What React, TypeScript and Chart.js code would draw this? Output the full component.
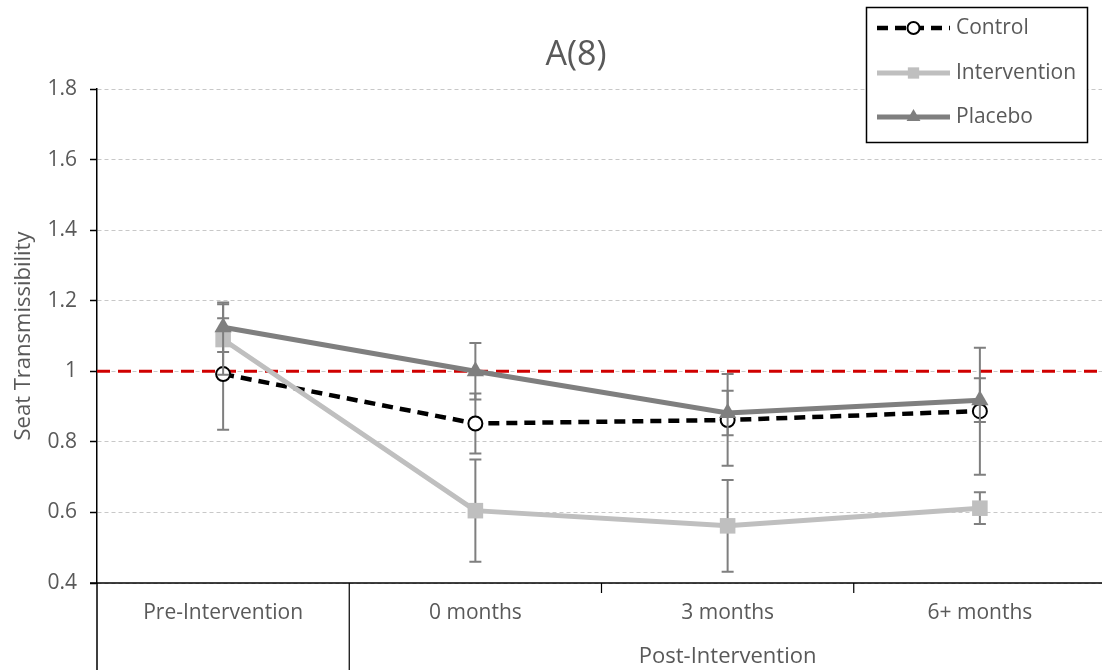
import React, { useEffect, useRef } from 'react';
import { Chart, registerables } from 'chart.js';

Chart.register(...registerables);

// ---------- data ----------
const categories = ['Pre-Intervention', '0 months', '3 months', '6+ months'];
const groupLabel = 'Post-Intervention';
const groupStart = 1; // first category in the Post-Intervention group
const groupEnd = 3;

const controlValues = [0.992, 0.852, 0.862, 0.887];
const controlErrors = [0.158, 0.085, 0.13, 0.18];
const interventionValues = [1.09, 0.605, 0.562, 0.612];
const interventionErrors = [0.1, 0.145, 0.13, 0.045];
const placeboValues = [1.125, 1.0, 0.882, 0.918];
const placeboErrors = [0.07, 0.08, 0.063, 0.062];

const seriesNames = ['Control', 'Intervention', 'Placebo'];
const referenceValue = 1;
const yMin = 0.4;
const yMax = 1.8;
const yStep = 0.2;
const chartTitle = 'A(8)';
const yTitle = 'Seat Transmissibility';

// ---------- styles ----------
const FONT = "'Open Sans', 'Noto Sans', sans-serif";
const TEXT = '#595959';
const ERR_COLOR = '#7f7f7f';
const errorsByDataset = [controlErrors, interventionErrors, placeboErrors];

type Style = {
  color: string;
  width: number;
  dash: number[];
  marker: string;
  radius: number;
  fill: string;
  stroke: string;
  markerBorder: number;
};
const styles: Style[] = [
  { color: '#000000', width: 4.5, dash: [11, 7], marker: 'circle', radius: 7, fill: '#ffffff', stroke: '#000000', markerBorder: 2 },
  { color: '#bfbfbf', width: 5, dash: [], marker: 'rect', radius: 11, fill: '#bfbfbf', stroke: '#bfbfbf', markerBorder: 0 },
  { color: '#7f7f7f', width: 5, dash: [], marker: 'triangle', radius: 10, fill: '#7f7f7f', stroke: '#7f7f7f', markerBorder: 0 },
];

function drawMarker(ctx: CanvasRenderingContext2D, s: Style, x: number, y: number, r: number) {
  ctx.save();
  ctx.setLineDash([]);
  ctx.fillStyle = s.fill;
  ctx.strokeStyle = s.stroke;
  ctx.lineWidth = s.markerBorder;
  ctx.beginPath();
  if (s.marker === 'circle') {
    ctx.arc(x, y, r, 0, Math.PI * 2);
  } else if (s.marker === 'rect') {
    const h = r * Math.SQRT1_2;
    ctx.rect(x - h, y - h, 2 * h, 2 * h);
  } else {
    ctx.moveTo(x, y - r);
    ctx.lineTo(x + r * Math.sin((2 * Math.PI) / 3), y - r * Math.cos((2 * Math.PI) / 3));
    ctx.lineTo(x + r * Math.sin((4 * Math.PI) / 3), y - r * Math.cos((4 * Math.PI) / 3));
    ctx.closePath();
  }
  ctx.fill();
  if (s.markerBorder > 0) ctx.stroke();
  ctx.restore();
}

const customPlugin = {
  id: 'customDecor',
  beforeDatasetsDraw(chart: any) {
    const { ctx, chartArea, scales } = chart;
    const y = scales.y.getPixelForValue(referenceValue);
    ctx.save();
    ctx.strokeStyle = '#d00000';
    ctx.lineWidth = 3;
    ctx.setLineDash([13, 8]);
    ctx.beginPath();
    ctx.moveTo(chartArea.left, y);
    ctx.lineTo(chartArea.right, y);
    ctx.stroke();
    ctx.restore();
  },
  beforeDatasetDraw(chart: any, args: any) {
    const { ctx, scales } = chart;
    const errs = errorsByDataset[args.index];
    const meta = chart.getDatasetMeta(args.index);
    const values = chart.data.datasets[args.index].data as number[];
    ctx.save();
    ctx.strokeStyle = ERR_COLOR;
    ctx.lineWidth = 2;
    ctx.setLineDash([]);
    values.forEach((v, i) => {
      const x = meta.data[i].x;
      const yTop = scales.y.getPixelForValue(v + errs[i]);
      const yBot = scales.y.getPixelForValue(v - errs[i]);
      ctx.beginPath();
      ctx.moveTo(x, yTop);
      ctx.lineTo(x, yBot);
      ctx.moveTo(x - 6, yTop);
      ctx.lineTo(x + 6, yTop);
      ctx.moveTo(x - 6, yBot);
      ctx.lineTo(x + 6, yBot);
      ctx.stroke();
    });
    ctx.restore();
  },
  afterDraw(chart: any) {
    const { ctx, chartArea, scales, width, height } = chart;
    const xs = scales.x;
    const left = chartArea.left;
    const bottom = chartArea.bottom;
    ctx.save();
    // x axis line and y axis continuation
    ctx.strokeStyle = '#000';
    ctx.lineWidth = 1.5;
    ctx.setLineDash([]);
    ctx.beginPath();
    ctx.moveTo(left - 7, bottom);
    ctx.lineTo(width, bottom);
    ctx.moveTo(left, bottom);
    ctx.lineTo(left, height);
    ctx.stroke();

    const bounds: number[] = [];
    for (let i = 0; i < categories.length - 1; i++) {
      bounds.push((xs.getPixelForValue(i) + xs.getPixelForValue(i + 1)) / 2);
    }
    ctx.lineWidth = 1.2;
    ctx.beginPath();
    bounds.forEach((b, i) => {
      const isGroupBoundary = i + 1 === groupStart;
      ctx.moveTo(b, bottom);
      ctx.lineTo(b, isGroupBoundary ? height : bottom + 10);
    });
    ctx.stroke();

    // category labels
    ctx.fillStyle = TEXT;
    ctx.font = `21px ${FONT}`;
    ctx.textAlign = 'center';
    ctx.textBaseline = 'middle';
    categories.forEach((c, i) => {
      ctx.fillText(c, xs.getPixelForValue(i), bottom + 30);
    });
    // group label
    const gLeft = bounds[groupStart - 1];
    const gRight = groupEnd + 1 < categories.length ? bounds[groupEnd] : chartArea.right;
    ctx.font = `22px ${FONT}`;
    ctx.fillText(groupLabel, (gLeft + gRight) / 2, bottom + 74);

    // title
    ctx.font = `34px ${FONT}`;
    ctx.fillText(chartTitle, 576, 55);

    // legend
    const bx = 866.5, by = 7.5, bw = 221, bh = 135;
    ctx.fillStyle = '#fff';
    ctx.fillRect(bx, by, bw, bh);
    ctx.strokeStyle = '#000';
    ctx.lineWidth = 1.5;
    ctx.strokeRect(bx, by, bw, bh);
    const rows = [28, 73, 117];
    ctx.font = `21px ${FONT}`;
    ctx.textAlign = 'left';
    seriesNames.forEach((name, i) => {
      const s = styles[i];
      const y = rows[i];
      ctx.save();
      ctx.strokeStyle = s.color;
      ctx.lineWidth = s.width;
      ctx.setLineDash(s.dash);
      ctx.beginPath();
      ctx.moveTo(877, y);
      ctx.lineTo(950, y);
      ctx.stroke();
      ctx.restore();
      drawMarker(ctx, s, 913.5, y, i === 0 ? 6 : 8);
      ctx.fillStyle = TEXT;
      ctx.fillText(name, 956, y);
    });
    ctx.restore();
  },
};

export default function App() {
  const canvasRef = useRef<HTMLCanvasElement | null>(null);

  useEffect(() => {
    if (!canvasRef.current) return;
    const valuesList = [controlValues, interventionValues, placeboValues];
    const chart = new Chart(canvasRef.current, {
      type: 'line',
      data: {
        labels: categories,
        datasets: valuesList.map((vals, i) => {
          const s = styles[i];
          return {
            label: seriesNames[i],
            data: vals,
            borderColor: s.color,
            borderWidth: s.width,
            borderDash: s.dash,
            backgroundColor: s.fill,
            pointStyle: s.marker,
            pointRadius: s.radius,
            pointHoverRadius: s.radius,
            pointBackgroundColor: s.fill,
            pointBorderColor: s.stroke,
            pointBorderWidth: s.markerBorder,
            tension: 0,
            fill: false,
            order: 3 - i,
          } as any;
        }),
      },
      options: {
        animation: false,
        responsive: true,
        maintainAspectRatio: false,
        events: [],
        layout: { autoPadding: false, padding: { top: 89, bottom: 87, left: 0, right: 0 } },
        plugins: {
          legend: { display: false },
          title: { display: false },
          tooltip: { enabled: false },
        },
        scales: {
          x: {
            type: 'category',
            offset: true,
            display: false,
          },
          y: {
            min: yMin,
            max: yMax,
            afterFit: (scale: any) => {
              scale.width = 97;
            },
            ticks: {
              stepSize: yStep,
              color: TEXT,
              font: { family: FONT, size: 21 },
              padding: 13,
              callback: (v: any) => String(Math.round(Number(v) * 10) / 10),
            },
            grid: {
              color: '#c8c8c8',
              lineWidth: 1,
              drawTicks: true,
              tickLength: 7,
              tickColor: '#000',
              tickWidth: 1.5,
              tickBorderDash: [],
            },
            border: { display: true, color: '#000', width: 1.5, dash: [4, 3] },
            title: {
              display: true,
              text: yTitle,
              color: TEXT,
              font: { family: FONT, size: 22 },
              padding: { top: 11, bottom: 0 },
            },
          },
        },
      },
      plugins: [customPlugin],
    } as any);
    return () => chart.destroy();
  }, []);

  return (
    <div
      style={{
        position: 'fixed',
        left: 0,
        top: 0,
        width: 1102,
        height: 670,
        overflow: 'hidden',
        background: '#fff',
      }}
    >
      <div style={{ position: 'relative', width: 1106, height: 670 }}>
        <canvas ref={canvasRef} />
      </div>
    </div>
  );
}
